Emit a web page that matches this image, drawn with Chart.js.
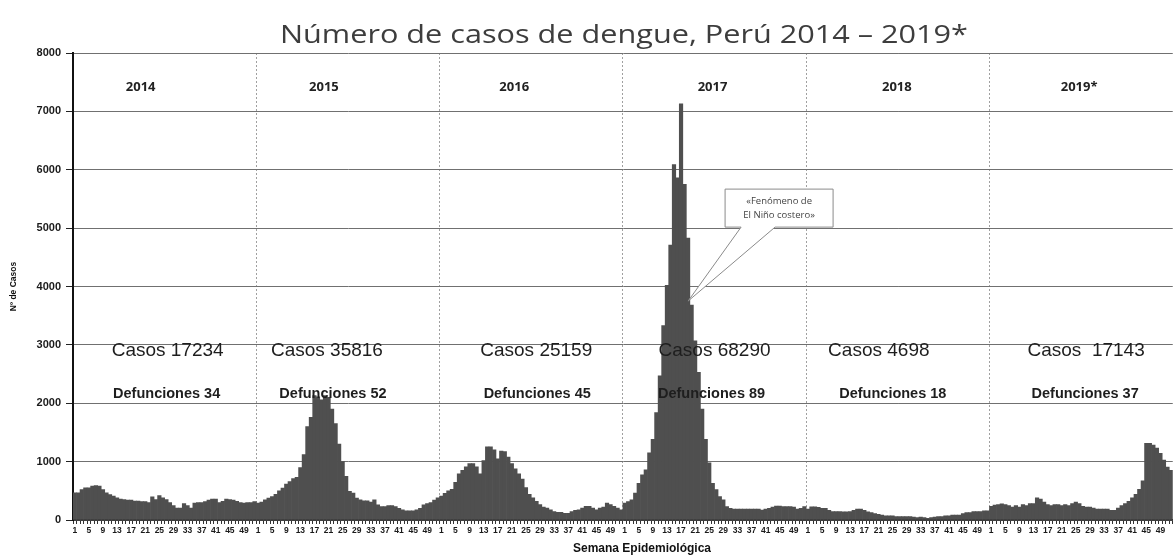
<!DOCTYPE html>
<html><head><meta charset="utf-8">
<script src="https://cdn.jsdelivr.net/npm/chart.js@4"></script>
<style>html,body{margin:0;padding:0;background:#fff;}</style>
</head><body>
<canvas id="c" width="1173" height="559"></canvas>
<script>
const titleText = 'Número de casos de dengue, Perú 2014 – 2019*';
const years = ['2014','2015','2016','2017','2018','2019*'];
const weeks = [1,2,3,4,5,6,7,8,9,10,11,12,13,14,15,16,17,18,19,20,21,22,23,24,25,26,27,28,29,30,31,32,33,34,35,36,37,38,39,40,41,42,43,44,45,46,47,48,49,50,51,52];
const tickWeeks = [1,5,9,13,17,21,25,29,33,37,41,45,49];
const yTicks = [0,1000,2000,3000,4000,5000,6000,7000,8000];

const y2014 = [465,465,520,550,550,580,590,580,520,465,435,410,380,360,350,340,340,325,325,315,315,300,395,350,420,380,350,300,245,205,205,280,245,205,290,300,300,315,340,360,360,300,320,360,350,340,320,300,290,300,300,315];
const y2015 = [290,305,345,375,400,440,500,545,615,660,710,730,900,1120,1600,1760,2130,2110,2060,2130,2100,1900,1650,1300,1000,750,490,460,375,345,330,330,305,345,260,230,230,245,245,230,200,175,155,155,155,175,200,260,280,300,340,380];
const y2016 = [410,455,500,525,645,790,850,910,965,965,910,790,1020,1255,1255,1200,1050,1180,1170,1080,965,875,790,700,555,440,380,320,265,220,205,175,145,130,130,115,115,145,165,175,205,235,235,205,175,205,220,290,265,235,205,175];
const y2017 = [290,315,345,460,630,775,860,1150,1380,1840,2470,3330,4020,4710,6090,5860,7130,5750,4830,3680,3070,2530,1900,1380,980,630,520,400,345,230,200,185,185,185,185,185,185,185,185,170,185,200,220,240,240,230,230,230,220,185,200,230];
const y2018 = [185,225,225,215,200,200,165,145,145,145,140,140,145,165,185,185,165,140,125,110,95,85,70,70,70,60,60,60,60,60,50,40,50,40,30,40,50,60,60,70,70,85,85,85,110,125,125,145,145,145,155,155];
const y2019 = [235,255,265,275,265,245,220,245,220,265,245,280,280,380,360,305,265,245,265,265,245,265,245,280,305,280,235,220,220,205,185,185,185,185,165,165,205,245,280,320,380,440,525,670,1315,1315,1285,1230,1140,1025,905,850];

const casos = ['Casos 17234','Casos 35816','Casos 25159','Casos 68290','Casos 4698','Casos  17143'];
const defunciones = ['Defunciones 34','Defunciones 52','Defunciones 45','Defunciones 89','Defunciones 18','Defunciones 37'];
const calloutLines = ['«Fenómeno de','El Niño costero»'];
const xTitle = 'Semana Epidemiológica';
const yTitle = 'Nº de Casos';

// layout-only offsets (px) of the text blocks relative to each year column centre
const yearDx = [-24,-24,-17,-2,-1,-2];
const casosDx = [3,-21,5,0,-19,5];
const defDx = [2,-15,6,-3,-5,4];

const series = [y2014,y2015,y2016,y2017,y2018,y2019];
const labels = [];
const values = [];
series.forEach((arr, yi) => {
  weeks.forEach((w, wi) => { labels.push(years[yi] + '-' + w); values.push(arr[wi]); });
});
const nW = weeks.length;

const annot = {
  id: 'annot',
  afterDraw(chart) {
    const {ctx, chartArea: a, scales: {x, y}} = chart;
    ctx.save();
    ctx.textAlign = 'center';
    ctx.textBaseline = 'middle';
    // title (stretched horizontally like the scanned original)
    ctx.save();
    ctx.fillStyle = '#3d3d3d';
    ctx.font = '25px "Open Sans", sans-serif';
    const tw = ctx.measureText(titleText).width;
    ctx.translate(624, 36);
    ctx.scale(688 / tw, 1);
    ctx.fillText(titleText, 0, 0);
    ctx.restore();
    years.forEach((yr, i) => {
      const cx = x.getPixelForValue(i * nW + (nW - 1) / 2);
      ctx.fillStyle = '#222';
      ctx.font = 'bold 13px "Open Sans", sans-serif';
      ctx.fillText(yr, cx + yearDx[i], 87);
      ctx.fillStyle = '#1e1e1e';
      ctx.font = '19px "Liberation Sans", Arial, sans-serif';
      ctx.fillText(casos[i], cx + casosDx[i], 351);
      ctx.font = 'bold 14.5px "Liberation Sans", Arial, sans-serif';
      ctx.fillText(defunciones[i], cx + defDx[i], 394);
    });
    // callout
    const tx = x.getPixelForValue(3 * nW + 18);
    const ty = y.getPixelForValue(3750);
    const bl = tx + 37, bt = ty - 112, bw = 108, bh = 38;
    ctx.beginPath();
    ctx.moveTo(bl, bt);
    ctx.lineTo(bl + bw, bt);
    ctx.lineTo(bl + bw, bt + bh);
    ctx.lineTo(bl + 50, bt + bh);
    ctx.lineTo(tx, ty);
    ctx.lineTo(bl + 16, bt + bh);
    ctx.lineTo(bl, bt + bh);
    ctx.closePath();
    ctx.fillStyle = '#fff';
    ctx.fill();
    ctx.strokeStyle = '#8a8a8a';
    ctx.lineWidth = 1;
    ctx.stroke();
    ctx.fillStyle = '#444';
    ctx.font = '9.5px "Open Sans", sans-serif';
    ctx.fillText(calloutLines[0], bl + bw / 2, bt + 12);
    ctx.fillText(calloutLines[1], bl + bw / 2, bt + 26);
    // axis titles
    ctx.fillStyle = '#111';
    ctx.font = 'bold 12px "Liberation Sans", Arial, sans-serif';
    ctx.fillText(xTitle, 642, 549);
    ctx.translate(14, (a.top + a.bottom) / 2);
    ctx.rotate(-Math.PI / 2);
    ctx.font = 'bold 8.5px "Liberation Sans", Arial, sans-serif';
    ctx.fillText(yTitle, 0, 0);
    ctx.restore();
  }
};

new Chart(document.getElementById('c'), {
  type: 'bar',
  data: {
    labels: labels,
    datasets: [{
      data: values,
      backgroundColor: '#4f4f4f',
      borderWidth: 0,
      barPercentage: 1,
      categoryPercentage: 1
    }]
  },
  options: {
    responsive: false,
    animation: false,
    devicePixelRatio: 1,
    layout: { padding: { top: 53, right: -3, bottom: 0, left: 0 } },
    plugins: { legend: { display: false }, title: { display: false }, tooltip: { enabled: false } },
    scales: {
      x: {
        ticks: {
          autoSkip: false, maxRotation: 0, minRotation: 0, padding: 2,
          color: '#1a1a1a',
          font: { family: '"Liberation Sans", Arial, sans-serif', size: 8.5, weight: 'bold' },
          callback: (v, i) => { const w = weeks[i % nW]; return tickWeeks.includes(w) ? String(w) : ''; }
        },
        grid: {
          offset: true,
          color: c => (c.index % nW === 0 && c.index > 0 && c.index < values.length) ? '#a0a0a0' : 'rgba(0,0,0,0)',
          lineWidth: 1, tickLength: 4, tickColor: '#333'
        },
        border: { color: '#111', width: 1.5, dash: [2, 2] },
        afterFit: s => { s.height = 39; }
      },
      y: {
        min: 0, max: 8000,
        afterBuildTicks: s => { s.ticks = yTicks.map(v => ({ value: v })); },
        ticks: {
          padding: 5, color: '#1a1a1a',
          font: { family: '"Liberation Sans", Arial, sans-serif', size: 11, weight: 'bold' },
          callback: v => String(v)
        },
        grid: { color: '#707070', lineWidth: 1, tickLength: 7, tickColor: '#222' },
        border: { color: '#111', width: 2 },
        afterFit: s => { s.width = 73; }
      }
    }
  },
  plugins: [annot]
});
</script>
</body></html>
